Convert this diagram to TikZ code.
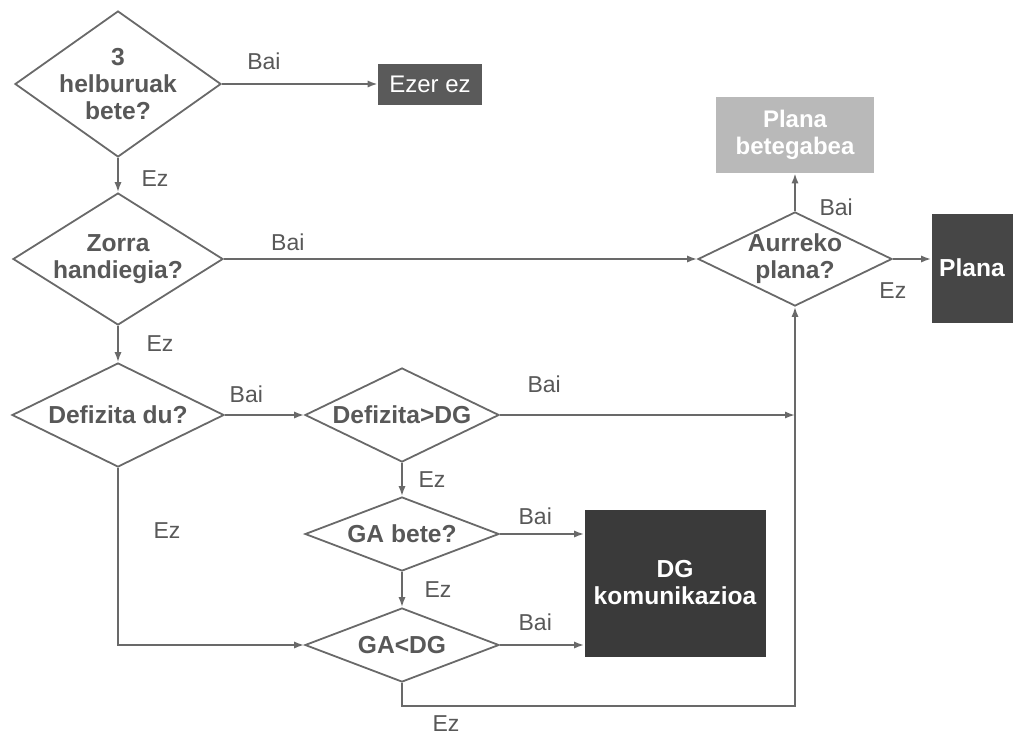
\documentclass[tikz,border=0pt]{standalone}
\usepackage{fontspec}
\setmainfont{Liberation Sans}
\usetikzlibrary{
    arrows.meta,
    positioning,
    shapes.geometric
}
\definecolor{inkgray}{RGB}{88,88,88}
\definecolor{linegray}{RGB}{105,105,105}
\definecolor{boxmid}{RGB}{90,90,90}
\definecolor{boxlight}{RGB}{185,185,185}
\definecolor{boxdark}{RGB}{70,70,70}
\definecolor{boxdarkest}{RGB}{58,58,58}

\begin{document}
\begin{tikzpicture}[
    x=0.5pt,
    y=-0.5pt,
    every node/.style={
        font=\fontsize{11.5pt}{13.5pt}\selectfont,
        text=inkgray
    },
    decision/.style 2 args={
        shape=diamond,
        draw=linegray,
        line width=0.9pt,
        inner sep=0pt,
        minimum width=#1,
        minimum height=#2
    },
    qtext/.style={
        font=\fontsize{12.3pt}{13.5pt}\selectfont\bfseries,
        align=center,
        text=inkgray
    },
    outcome/.style={
        draw=none,
        inner sep=0pt,
        align=center,
        text=white,
        font=\fontsize{12pt}{13.5pt}\selectfont
    },
    lbl/.style={
        inner sep=3.8pt
    },
    flow/.style={
        draw=linegray,
        line width=0.9pt,
        -{Latex[length=5pt,width=3.6pt]}
    }
]

    \useasboundingbox (0,0) rectangle (1015,734);

    % Decisions
    \node[decision={103pt}{73pt},
        label={[qtext]center:{3\\helburuak\\bete?}}]
        (helburu) at (118,84) {};

    \node[decision={105pt}{66pt},
        label={[qtext]center:{Zorra\\handiegia?}}]
        (zorra) at (118,259) {};

    \node[decision={106pt}{52pt},
        label={[qtext]center:{Defizita du?}}]
        (defizit) at (118,415) {};

    \node[decision={97pt}{47pt},
        label={[qtext]center:{Defizita>DG}}]
        (defdg) at (402,415) {};

    \node[decision={97pt}{37pt},
        label={[qtext]center:{GA bete?}}]
        (gabete) at (402,534) {};

    \node[decision={97pt}{37pt},
        label={[qtext]center:{GA<DG}}]
        (gadg) at (402,645) {};

    \node[decision={97pt}{47pt},
        label={[qtext]center:{Aurreko\\plana?}}]
        (aurreko) at (795,259) {};

    % Outcomes
    \node[outcome, fill=boxmid,
        minimum width=52pt, minimum height=20.5pt]
        (ezer) at (430,84) {Ezer ez};

    \node[outcome, fill=boxlight, font=\fontsize{12pt}{13.5pt}\selectfont\bfseries,
        minimum width=79pt, minimum height=38pt]
        (betegabe) at (795,135) {Plana\\betegabea};

    \node[outcome, fill=boxdark, font=\fontsize{12.3pt}{13.5pt}\selectfont\bfseries,
        minimum width=40.5pt, minimum height=54.5pt]
        (plana) at (972,268) {Plana};

    \node[outcome, fill=boxdarkest, font=\fontsize{12.3pt}{13.5pt}\selectfont\bfseries,
        minimum width=90.5pt, minimum height=73.5pt]
        (dgkom) at (675,583) {DG\\komunikazioa};

    % Connectors
    \draw[flow] (helburu.east)
        -- node[lbl, pos=0.27, above=3pt] {Bai} (ezer.west);

    \draw[flow] (helburu.south)
        -- node[lbl, pos=0.6, right=7.5pt] {Ez} (zorra.north);

    \draw[flow] (zorra.east)
        -- node[lbl, pos=0.135, above=0pt] {Bai} (aurreko.west);

    \draw[flow] (zorra.south)
        -- node[lbl, right=10pt] {Ez} (defizit.north);

    \draw[flow] (defizit.east)
        -- node[lbl, pos=0.27, above=2pt] {Bai} (defdg.west);

    \draw[flow] (defizit.south)
        |- node[lbl, pos=0.177, right=13.5pt] {Ez} (gadg.west);

    \coordinate (merge) at (aurreko.south |- defdg.east);

    \draw[flow] (defdg.east)
        -- node[lbl, pos=0.15, above=7pt] {Bai} (merge);

    \draw[flow] (defdg.south)
        -- node[lbl, right=4pt] {Ez} (gabete.north);

    \draw[flow] (gabete.east)
        -- node[lbl, pos=0.42, above=0.5pt] {Bai} (gabete.east -| dgkom.west);

    \draw[flow] (gabete.south)
        -- node[lbl, right=7pt] {Ez} (gadg.north);

    \draw[flow] (gadg.east)
        -- node[lbl, pos=0.42, above=3pt] {Bai} (gadg.east -| dgkom.west);

    \draw[flow] (gadg.south) -- ++(0,23)
        -| node[lbl, pos=0.056, below=0.6pt] {Ez} (aurreko.south);

    \draw[flow] (aurreko.north)
        -- node[lbl, pos=0.1, right=8pt] {Bai} (betegabe.south);

    \draw[flow] (aurreko.east)
        -- node[lbl, pos=0, below=7.5pt] {Ez} (aurreko.east -| plana.west);

\end{tikzpicture}
\end{document}
